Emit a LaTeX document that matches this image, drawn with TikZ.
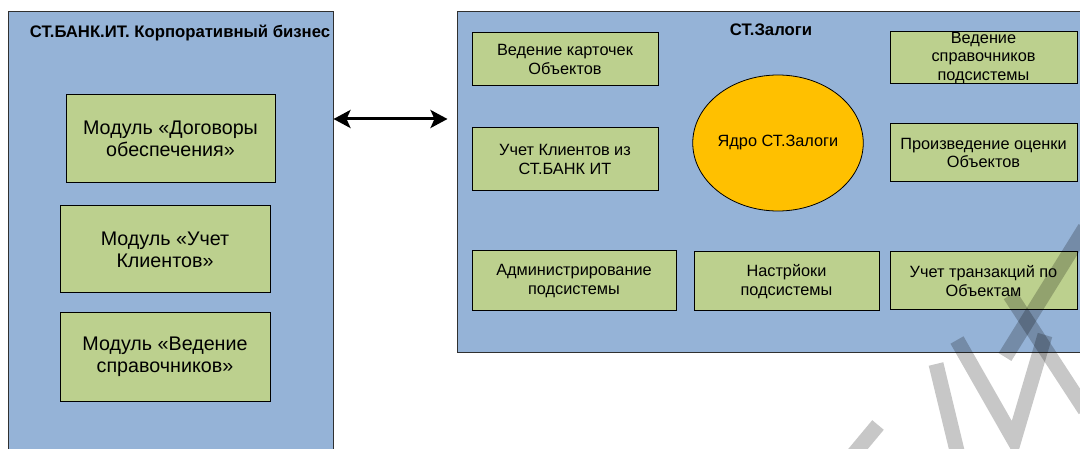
\documentclass[tikz,border=0pt]{standalone}
\usepackage{fontspec}
\setmainfont{Liberation Sans}
\usetikzlibrary{arrows.meta,shapes.geometric}
\definecolor{contblue}{HTML}{95B3D7}
\definecolor{boxgreen}{HTML}{BCD08E}
\definecolor{coreyel}{HTML}{FFC000}
\definecolor{edgegray}{HTML}{303030}
\begin{document}
\begin{tikzpicture}[x=1pt,y=-1pt,
  container/.style={draw=edgegray, line width=1pt, fill=contblue, rectangle, inner sep=0pt},
  gbox/.style={draw=black, line width=1pt, fill=boxgreen, rectangle, align=center, inner sep=0pt,
    font=\fontsize{16.3}{18.4}\selectfont},
  lbox/.style={gbox, font=\fontsize{19.7}{22}\selectfont},
  core/.style={draw=black, line width=0.8pt, fill=coreyel, ellipse, inner sep=0pt,
    font=\fontsize{16.3}{18.4}\selectfont},
  titletext/.style={font=\bfseries\fontsize{16.7}{19}\selectfont, inner sep=0pt},
  arr/.style={line width=3pt, {Stealth[length=17pt,width=18pt,inset=4pt]}-{Stealth[length=17pt,width=18pt,inset=4pt]}},
  wm/.style={line width=15pt, draw=black, draw opacity=0.22, line cap=butt}
]
\useasboundingbox[fill=white] (0,0) rectangle (1080,449);
\clip (0,0) rectangle (1080,449);

% containers
\node[container, minimum width=325pt, minimum height=458pt] (lcont) at (170.5,241) {};
\node[container, minimum width=638pt, minimum height=341pt] (rcont) at (776,182.5) {};

% titles
\node[titletext] (t1) at (180,33) {СТ.БАНК.ИТ. Корпоративный бизнес};
\node[titletext] (t2) at (771,30) {СТ.Залоги};

% left modules
\node[lbox, minimum width=209pt, minimum height=88pt] (l1) at (170.5,139) {Модуль «Договоры\\обеспечения»};
\node[lbox, minimum width=210pt, minimum height=87pt] (l2) at (165,249.5) {Модуль «Учет\\Клиентов»};
\node[lbox, minimum width=210pt, minimum height=88pt] (l3) at (165,357) {Модуль «Ведение\\справочников»};

% right modules
\node[gbox, minimum width=186pt, minimum height=53pt] (r1) at (565,59.5) {Ведение карточек\\Объектов};
\node[gbox, minimum width=186pt, minimum height=63pt] (r2) at (565,159.5) {Учет Клиентов из\\СТ.БАНК ИТ};
\node[core, minimum width=147pt, minimum height=136pt] (core) at (778,143) {Ядро СТ.Залоги};
\node[gbox, minimum width=187pt, minimum height=52pt] (r3) at (983.5,58) {Ведение\\справочников\\подсистемы};
\node[gbox, minimum width=187pt, minimum height=58pt] (r4) at (983.5,153) {Произведение оценки\\Объектов};
\node[gbox, minimum width=204pt, minimum height=60pt] (b1) at (574,281) {Администрирование\\подсистемы};
\node[gbox, minimum width=185pt, minimum height=59pt] (b2) at (786.5,281.5) {Настрйоки\\подсистемы};
\node[gbox, minimum width=187pt, minimum height=58pt] (b3) at (983.5,281) {Учет транзакций по\\Объектам};

% connector
\coordinate (ay) at (0,119);
\draw[arr] (lcont.east |- ay) -- ([xshift=-9pt]rcont.west |- ay);

% watermark strokes
\draw[wm] (853,455) -- (878,425);
\draw[wm] (936,364) -- (958,455);
\draw[wm, line join=miter] (957,340) -- (1014,440) -- (1045,335);
\draw[wm] (1010,295) -- (1085,410);
\draw[wm] (1005,357) -- (1085,228);
\end{tikzpicture}
\end{document}
